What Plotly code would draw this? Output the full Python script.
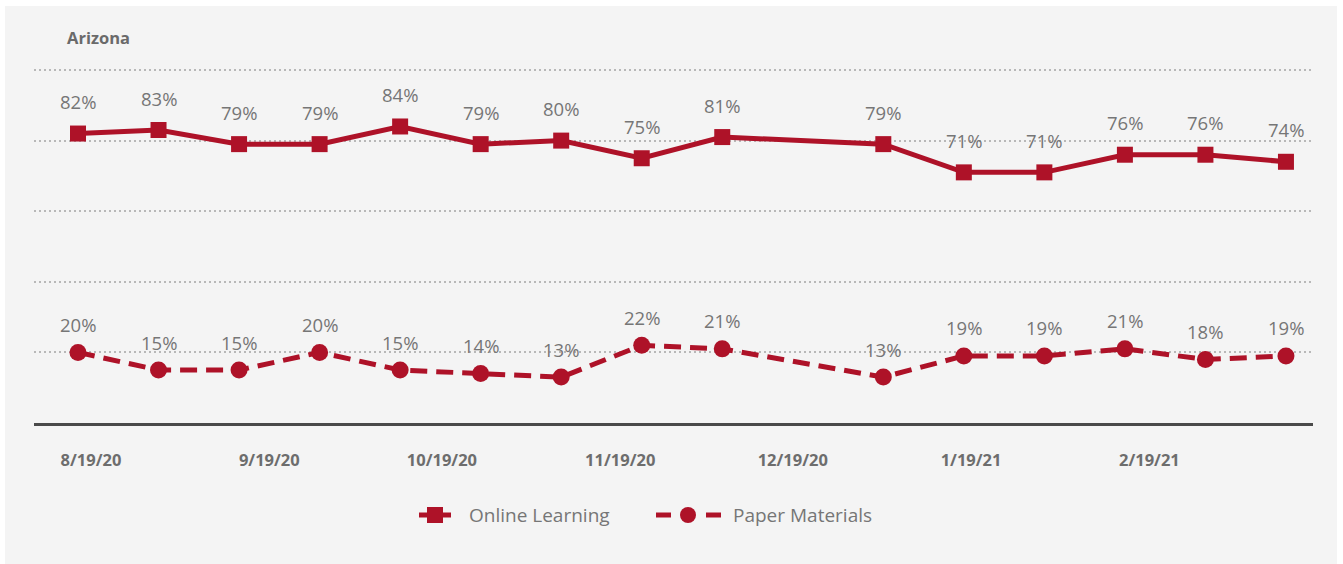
import pandas as pd
import plotly.graph_objects as go

# Survey week start dates (Household Pulse Survey, Arizona)
dates = ["2020-08-19", "2020-09-02", "2020-09-16", "2020-09-30", "2020-10-14",
         "2020-10-28", "2020-11-11", "2020-11-25", "2020-12-09", "2021-01-06",
         "2021-01-20", "2021-02-03", "2021-02-17", "2021-03-03", "2021-03-17"]
online_learning = [82, 83, 79, 79, 84, 79, 80, 75, 81, 79, 71, 71, 76, 76, 74]
paper_materials = [20, 15, 15, 20, 15, 14, 13, 22, 21, 13, 19, 19, 21, 18, 19]

tick_dates = ["2020-08-19", "2020-09-19", "2020-10-19", "2020-11-19",
              "2020-12-19", "2021-01-19", "2021-02-19"]
tick_labels = ["8/19/20", "9/19/20", "10/19/20", "11/19/20",
               "12/19/20", "1/19/21", "2/19/21"]

RED = "#ae1228"
LABEL_GREY = "#767676"
W, H = 1343, 564
L, R, T, B = 34, 30, 66, 141
PW, PH = W - L - R, H - T - B


def px_x(p):
    return (p - L) / PW


def px_y(p):
    return (H - B - p) / PH


x = pd.to_datetime(dates)
x_start = x[0] - pd.Timedelta(hours=7.65 * 24)
x_end = x[-1] + pd.Timedelta(hours=4.7 * 24)
y_top = 100 * PH / (H - B - 70)  # leaves the 100% gridline just inside the plot

fig = go.Figure()

fig.add_trace(go.Scatter(
    x=x, y=online_learning, name="Online Learning", mode="lines+markers",
    line=dict(color=RED, width=5),
    marker=dict(symbol="square", size=16, color=RED),
    cliponaxis=False, showlegend=False,
))
fig.add_trace(go.Scatter(
    x=x, y=paper_materials, name="Paper Materials", mode="lines+markers",
    line=dict(color=RED, width=5, dash="17px,9px"),
    marker=dict(symbol="circle", size=17, color=RED),
    cliponaxis=False, showlegend=False,
))

# value labels above each point
for series, shift in ((online_learning, 32), (paper_materials, 28)):
    for xi, v in zip(x, series):
        fig.add_annotation(
            x=xi, y=v, text=f"{v}%", showarrow=False, yshift=shift,
            font=dict(family="Open Sans", size=18.5, color=LABEL_GREY),
        )

fig.add_annotation(
    x=px_x(65), y=px_y(37), xref="paper", yref="paper", xanchor="left",
    yanchor="middle", text="Arizona", showarrow=False,
    font=dict(family="Open Sans", size=16.5, color="#6a6a6a", weight=700),
)

# grey card behind the chart
fig.add_shape(
    type="rect", xref="paper", yref="paper", layer="below",
    x0=px_x(5), x1=px_x(1337), y0=px_y(6), y1=px_y(564),
    fillcolor="#f4f4f4", line=dict(width=0),
)


# legend drawn beneath the axis
def seg(x0, x1, yc):
    fig.add_shape(type="line", xref="paper", yref="paper",
                  x0=px_x(x0), x1=px_x(x1), y0=px_y(yc), y1=px_y(yc),
                  line=dict(color=RED, width=5))


LEG_Y = 515
seg(419, 451, LEG_Y)
fig.add_shape(type="rect", xref="paper", yref="paper",
              x0=px_x(427), x1=px_x(443), y0=px_y(LEG_Y - 8), y1=px_y(LEG_Y + 8),
              fillcolor=RED, line=dict(width=0))
seg(656, 671, LEG_Y)
seg(706, 721, LEG_Y)
fig.add_shape(type="circle", xref="paper", yref="paper",
              x0=px_x(680), x1=px_x(696), y0=px_y(LEG_Y - 8), y1=px_y(LEG_Y + 8),
              fillcolor=RED, line=dict(width=0))
for name, tx in (("Online Learning", 467), ("Paper Materials", 731)):
    fig.add_annotation(
        x=px_x(tx), y=px_y(LEG_Y), xref="paper", yref="paper",
        xanchor="left", yanchor="middle", text=name, showarrow=False,
        font=dict(family="Open Sans", size=19, color=LABEL_GREY),
    )

fig.update_layout(
    width=W, height=H,
    margin=dict(l=L, r=R, t=T, b=B),
    paper_bgcolor="white",
    plot_bgcolor="rgba(0,0,0,0)",
    showlegend=False,
    xaxis=dict(
        type="date", range=[x_start, x_end],
        tickvals=pd.to_datetime(tick_dates), ticktext=tick_labels,
        showgrid=False, zeroline=False,
        showline=True, linecolor="#4a4a4a", linewidth=3,
        ticks="", ticklabelshift=13, ticklabelstandoff=20,
        tickfont=dict(family="Open Sans", size=16.5, color="#6d6d6d", weight=700),
    ),
    yaxis=dict(
        range=[0, y_top], tickvals=[20, 40, 60, 80, 100],
        showticklabels=False, zeroline=False, showline=False,
        showgrid=True, gridcolor="#b8b8b8", gridwidth=1.5, griddash="1.5px,3.5px",
    ),
)

fig.write_html("out.html")
